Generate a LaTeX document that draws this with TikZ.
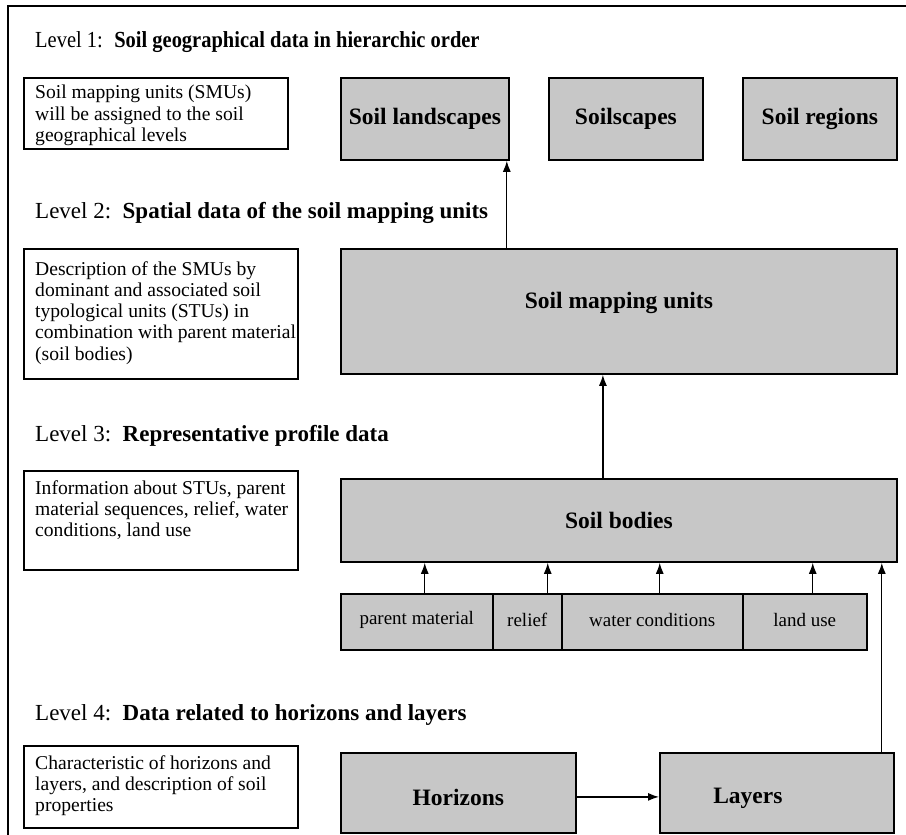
\documentclass[tikz,border=0pt]{standalone}
\usepackage{fontspec}
\setmainfont{Liberation Serif}
\newfontfamily\narrowserif{Liberation Serif}[FakeStretch=0.89]
\usetikzlibrary{arrows.meta}

\tikzset{
  descbox/.style={draw, line width=1.5pt, anchor=north west, inner sep=0pt},
  desctext/.style={anchor=north west, inner sep=0pt, align=left,
    font=\fontsize{19.6}{21.3}\selectfont},
  unit/.style={draw, line width=1.8pt, fill=black!22, anchor=north west,
    inner sep=0pt, font=\fontsize{23.5}{25}\selectfont\bfseries},
  factor/.style={draw, line width=1.5pt, fill=black!22, anchor=north west,
    inner sep=0pt, minimum height=56pt, font=\fontsize{19}{21}\selectfont},
  lvl/.style={anchor=base west, inner sep=0pt, font=\fontsize{23}{26}\selectfont},
  arr/.style={-{Latex[length=11pt,width=8pt]}, line width=1.3pt},
}
% shift a label vertically without changing its size
\newcommand{\shiftlabel}[2]{\raisebox{#1}[\height][\depth]{#2}}

\begin{document}
\begin{tikzpicture}[x=1pt,y=-1pt]
\useasboundingbox (0,0) rectangle (906,835);

% outer frame (left and top edges)
\draw[line width=1.5pt] (8,835) -- (8,6) -- (906,6);

% level headings
\node[lvl, font=\fontsize{23}{26}\narrowserif] (t1) at (35,47)
  {Level 1:\hspace{0.5em}\textbf{Soil geographical data in hierarchic order}};
\node[lvl] (t2) at (35,218) {Level 2:\hspace{0.5em}\textbf{Spatial data of the soil mapping units}};
\node[lvl] (t3) at (35,441) {Level 3:\hspace{0.5em}\textbf{Representative profile data}};
\node[lvl] (t4) at (35,720) {Level 4:\hspace{0.5em}\textbf{Data related to horizons and layers}};

% explanatory boxes on the left
\node[descbox, minimum width=264pt, minimum height=71pt]  (d1) at (23,77)  {};
\node[descbox, minimum width=274pt, minimum height=130pt] (d2) at (23,248) {};
\node[descbox, minimum width=274pt, minimum height=99pt]  (d3) at (23,470) {};
\node[descbox, minimum width=274pt, minimum height=82pt]  (d4) at (23,745) {};

\node[desctext] (d1t) at ([xshift=12pt,yshift=-8pt]d1.north west)
  {Soil mapping units (SMUs)\\will be assigned to the soil\\geographical levels};
\node[desctext] (d2t) at ([xshift=12pt,yshift=-13pt]d2.north west)
  {Description of the SMUs by\\dominant and associated soil\\typological units (STUs) in\\combination with parent material\\(soil bodies)};
\node[desctext] (d3t) at ([xshift=12pt,yshift=-10pt]d3.north west)
  {Information about STUs, parent\\material sequences, relief, water\\conditions, land use};
\node[desctext] (d4t) at ([xshift=12pt,yshift=-10pt]d4.north west)
  {Characteristic of horizons and\\layers, and description of soil\\properties};

% level 1 units
\node[unit, minimum width=168pt, minimum height=82pt] (sl) at (340,77) {Soil landscapes};
\node[unit, minimum width=154pt, minimum height=82pt] (ss) at (548,77) {Soilscapes};
\node[unit, minimum width=154pt, minimum height=82pt] (sr) at (742,77) {Soil regions};

% level 2
\node[unit, minimum width=556pt, minimum height=125pt] (smu) at (340,248) {\shiftlabel{8pt}{Soil mapping units}};

% level 3
\node[unit, minimum width=556pt, minimum height=83pt] (sb) at (340,478) {Soil bodies};
\node[factor, minimum width=152pt] (pm)  at (340,593) {\shiftlabel{2pt}{parent material}};
\node[factor, minimum width=69pt]  (rel) at (492,593) {\shiftlabel{2pt}{relief}};
\node[factor, minimum width=181pt] (wc)  at (561,593) {\shiftlabel{2pt}{water conditions}};
\node[factor, minimum width=124pt] (lu)  at (742,593) {\shiftlabel{2pt}{land use}};

% level 4
\node[unit, minimum width=235pt, minimum height=80pt] (hz) at (340,752) {\shiftlabel{-5pt}{Horizons}};
\node[unit, minimum width=234pt, minimum height=80pt] (ly) at (659,752) {\hspace*{-58pt}\shiftlabel{-5pt}{Layers}};

% connectors
\draw[arr] ([xshift=-3pt]sl.south east |- smu.north) -- ([xshift=-3pt]sl.south east);
\draw[arr] ([xshift=-16pt]sb.north) -- ([xshift=-16pt]smu.south);
\draw[arr] ([xshift=8pt]pm.north)    -- ([xshift=8pt]pm.north |- sb.south);
\draw[arr] ([xshift=20.5pt]rel.north) -- ([xshift=20.5pt]rel.north |- sb.south);
\draw[arr] ([xshift=7.5pt]wc.north)  -- ([xshift=7.5pt]wc.north |- sb.south);
\draw[arr] ([xshift=8pt]lu.north)    -- ([xshift=8pt]lu.north |- sb.south);
\draw[arr] ([xshift=-13pt]ly.north east) -- ([xshift=-13pt]ly.north east |- sb.south);
\draw[arr] ([yshift=-4pt]hz.east) -- ([yshift=-4pt]ly.west);
\end{tikzpicture}
\end{document}
